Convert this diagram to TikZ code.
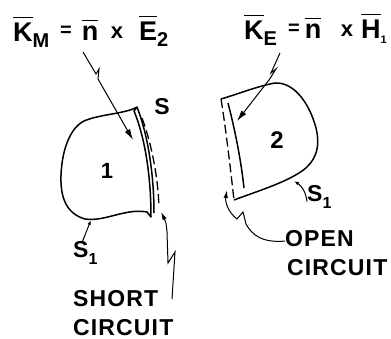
\documentclass[tikz,border=0pt]{standalone}
\usepackage{fontspec}
\setmainfont{Liberation Sans}[LetterSpace=5]
\usetikzlibrary{arrows.meta}

\newcommand{\ovl}[1]{\vbox{\hrule height 1.3pt\kern 5pt\hbox{#1}}}
\newcommand{\lowtxt}[1]{\raisebox{-6pt}{\fontsize{20}{22}\selectfont #1}}
\newcommand{\lowsub}[1]{\raisebox{-7pt}{\fontsize{16}{18}\selectfont #1}}

\begin{document}
\begin{tikzpicture}[x=1pt, y=-1pt,
    formula/.style={inner sep=0pt, font=\fontsize{27}{30}\selectfont\bfseries},
    lbl/.style={inner sep=0pt, font=\fontsize{23}{26}\selectfont\bfseries},
    region/.style={line width=1.5pt, line join=round},
    sheet/.style={line width=1.3pt, dash pattern=on 9pt off 4pt},
    ptr/.style={line width=1pt, -{Latex[length=11pt,width=6pt]}},
    tinyptr/.style={line width=1pt, -{Latex[length=5pt,width=3.5pt]}}]
  \useasboundingbox (0,0) rectangle (391,339);

  % formulas
  \node[formula, anchor=base west] (km) at (13,42) {\ovl{K}\lowtxt{M}};
  \node[formula, anchor=base, font=\fontsize{20}{22}\selectfont\bfseries] (eqa) at (66,37) {=};
  \node[formula, anchor=base] (na) at (90,41) {\ovl{n}};
  \node[formula, anchor=base, font=\fontsize{22}{24}\selectfont\bfseries] (xa) at (117,39) {x};
  \node[formula, anchor=base west] (ea) at (139,41) {\ovl{E}\lowtxt{2}};

  \node[formula, anchor=base west] (ke) at (244,40) {\ovl{K}\lowtxt{E}};
  \node[formula, anchor=base, font=\fontsize{20}{22}\selectfont\bfseries] (eqb) at (294,35) {=};
  \node[formula, anchor=base] (nb) at (313,39) {\ovl{n}};
  \node[formula, anchor=base, font=\fontsize{22}{24}\selectfont\bfseries] (xb) at (347,37) {x};
  \node[formula, anchor=base west] (hb) at (361,39) {\ovl{H}\raisebox{-5pt}{\fontsize{11}{12}\selectfont 1}};

  % region 1, short circuit
  \draw[region] (137,107) .. controls (125,114) and (100,114) .. (84,121)
    .. controls (70,128) and (62,150) .. (61,175)
    .. controls (60,200) and (68,214) .. (85,219)
    .. controls (105,222) and (125,208) .. (147,212) -- (151,217)
    .. controls (151,180) and (146,140) .. (134,111) -- cycle;
  \draw[region] (137,107) .. controls (148,135) and (154,175) .. (154,213);
  \draw[sheet] (142,118) .. controls (152,145) and (158,178) .. (159,207);

  % region 2, open circuit
  \draw[region] (221,99) .. controls (235,95) and (258,86) .. (275,83)
    .. controls (295,82) and (310,105) .. (316,128)
    .. controls (321,148) and (315,162) .. (302,171)
    .. controls (285,183) and (255,192) .. (234,200);
  \draw[region] (228,103) .. controls (235,130) and (241,160) .. (244,188);
  \draw[sheet] (221,99) .. controls (226,130) and (230,165) .. (234,200);

  % labels
  \node[lbl] (sa) at (162,107) {S};
  \node[lbl, font=\fontsize{22}{24}\selectfont\bfseries] (ra) at (107,171) {1};
  \node[lbl, font=\fontsize{24}{26}\selectfont\bfseries] (rb) at (277,140) {2};
  \node[lbl, anchor=base west] (s1a) at (73,258) {S\lowsub{1}};
  \node[lbl, anchor=base west] (s1b) at (307,202) {S\lowsub{1}};
  \node[lbl, anchor=base west] (shorta) at (73,306) {SHORT};
  \node[lbl, anchor=base west] (shortb) at (73,335) {CIRCUIT};
  \node[lbl, anchor=base west] (opena) at (285,247) {OPEN};
  \node[lbl, anchor=base west] (openb) at (287,276) {CIRCUIT};

  % arrow ends
  \coordinate (kmfoot) at (83,52);
  \coordinate (kmtip) at (133,140);
  \coordinate (kefoot) at (280,53);
  \coordinate (ketip) at (237,121);
  \coordinate (scfoot) at (172,299);
  \coordinate (sctip) at (161,212);
  \coordinate (octip) at (227,190);

  \draw[ptr] (kmfoot) -- (96,74) -- (99,69) -- (98,79) -- (kmtip);
  \draw[ptr] (kefoot) -- (271,73) -- (276,69) -- (269,80) -- (ketip);
  \draw[ptr, -{Latex[length=8pt,width=4.5pt]}] (scfoot) -- (175,252) -- (168,263)
    -- (167,232) .. controls (166,222) .. (sctip);
  \draw[ptr, -{Latex[length=8pt,width=4.5pt]}] ([yshift=-2pt]opena.west)
    .. controls (262,243) and (252,235) .. (246,224) -- (243,212) -- (237,219)
    .. controls (228,212) and (225,202) .. (octip);
  \draw[tinyptr] ([xshift=-3pt]s1a.north) -- (91,220);
  \draw[tinyptr] ([yshift=-4pt]s1b.west) to[bend right=25] (294,181);
\end{tikzpicture}
\end{document}
